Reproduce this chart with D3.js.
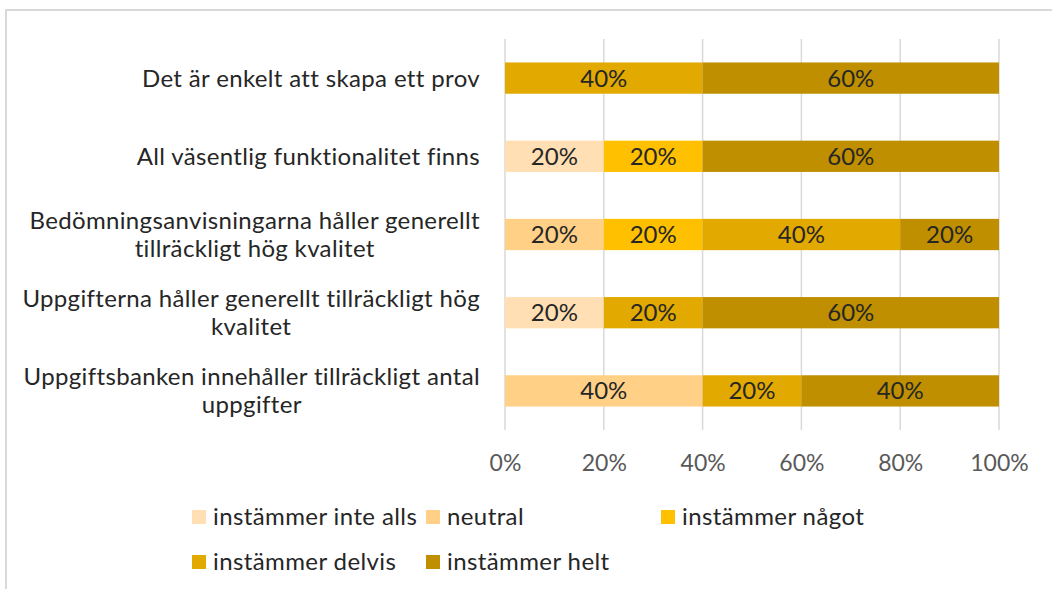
<!DOCTYPE html>
<html>
<head>
<meta charset="utf-8">
<script src="https://cdn.jsdelivr.net/npm/d3@7"></script>
<style>
    body { margin: 0; background: #fff; }
    svg { display: block; font-family: Lato, "Open Sans", sans-serif; }
</style>
</head>
<body>
<script>
// Statements, top to bottom.
var categories = [
    "Det är enkelt att skapa ett prov",
    "All väsentlig funktionalitet finns",
    "Bedömningsanvisningarna håller generellt tillräckligt hög kvalitet",
    "Uppgifterna håller generellt tillräckligt hög kvalitet",
    "Uppgiftsbanken innehåller tillräckligt antal uppgifter"
];

// Answer options, in stacking order.
var seriesNames = ["instämmer inte alls", "neutral", "instämmer något", "instämmer delvis", "instämmer helt"];
var seriesColors = ["#FFDFB3", "#FFD086", "#FFC000", "#E2A900", "#BF8F00"];

// Share of answers per statement.
var inteAlls = [0, 0.2, 0, 0.2, 0];
var neutral = [0, 0, 0.2, 0, 0.4];
var nagot = [0, 0.2, 0.2, 0, 0];
var delvis = [0.4, 0, 0.4, 0.2, 0.2];
var helt = [0.6, 0.6, 0.2, 0.6, 0.4];

var xTicks = [0, 0.2, 0.4, 0.6, 0.8, 1];

var width = 1052, height = 589;

var svg = d3.select("body").append("svg")
    .attr("width", width)
    .attr("height", height);

// Chart frame.
svg.append("rect")
    .attr("x", 6)
    .attr("y", 10)
    .attr("width", width)
    .attr("height", height)
    .attr("fill", "none")
    .attr("stroke", "#D9D9D9")
    .attr("stroke-width", 2);

// Build one row object per statement for d3.stack.
var rows = categories.map((c, i) => ({
    category: c,
    "instämmer inte alls": inteAlls[i],
    "neutral": neutral[i],
    "instämmer något": nagot[i],
    "instämmer delvis": delvis[i],
    "instämmer helt": helt[i]
}));

var stacked = d3.stack().keys(seriesNames)(rows);

var x = d3.scaleLinear().domain([0, 1]).range([505, 999]);
var y = d3.scaleBand().domain(categories).range([39, 430])
    .paddingInner(0.6).paddingOuter(0.3);
var color = d3.scaleOrdinal().domain(seriesNames).range(seriesColors);

// Vertical gridlines.
svg.append("g")
    .selectAll("line")
    .data(xTicks)
    .join("line")
    .attr("x1", d => x(d))
    .attr("x2", d => x(d))
    .attr("y1", 39)
    .attr("y2", 430)
    .attr("stroke", "#D9D9D9")
    .attr("stroke-width", 1.5);

// Stacked bars.
var layer = svg.append("g")
    .selectAll("g")
    .data(stacked)
    .join("g")
    .attr("fill", d => color(d.key));

layer.selectAll("rect")
    .data(d => d.filter(s => s[1] - s[0] > 0))
    .join("rect")
    .attr("x", d => x(d[0]))
    .attr("y", d => y(d.data.category))
    .attr("width", d => x(d[1]) - x(d[0]))
    .attr("height", y.bandwidth());

// Value labels inside the segments.
layer.selectAll("text")
    .data(d => d.filter(s => s[1] - s[0] > 0))
    .join("text")
    .attr("x", d => (x(d[0]) + x(d[1])) / 2)
    .attr("y", d => y(d.data.category) + y.bandwidth() / 2)
    .attr("dy", "0.35em")
    .attr("text-anchor", "middle")
    .attr("fill", "#262626")
    .attr("font-size", 24)
    .text(d => d3.format(".0%")(d[1] - d[0]));

// X axis tick labels.
var xAxis = svg.append("g")
    .attr("transform", "translate(0,430)")
    .call(d3.axisBottom(x).tickValues(xTicks).tickFormat(d3.format(".0%")).tickSize(0).tickPadding(25));
xAxis.select(".domain").remove();
xAxis.selectAll("text")
    .attr("font-family", "Lato, sans-serif")
    .attr("font-size", 23)
    .attr("fill", "#595959");

// Category labels, wrapped into lines and centred on the widest line.
var labelRight = 480, labelMax = 460, lineHeight = 28;
var labels = svg.append("g")
    .attr("font-size", 24)
    .attr("letter-spacing", 0.35)
    .attr("fill", "#262626");

categories.forEach(cat => {
    var t = labels.append("text").attr("text-anchor", "middle");
    var words = cat.split(" "), lines = [], line = [];
    words.forEach(w => {
        line.push(w);
        t.text(line.join(" "));
        if (t.node().getComputedTextLength() > labelMax && line.length > 1) {
            line.pop();
            lines.push(line.join(" "));
            line = [w];
        }
    });
    lines.push(line.join(" "));
    t.text(null);
    var widest = d3.max(lines, l => { t.text(l); var w = t.node().getComputedTextLength(); t.text(null); return w; });
    var cx = labelRight - widest / 2;
    var cy = y(cat) + y.bandwidth() / 2 - (lines.length - 1) * lineHeight / 2;
    lines.forEach((l, i) => {
        t.append("tspan")
            .attr("x", cx)
            .attr("y", cy + i * lineHeight)
            .attr("dy", "0.35em")
            .text(l);
    });
});

// Legend, two rows.
var legendPos = [[192, 517], [426, 517], [661, 517], [192, 562], [426, 562]];
var legend = svg.append("g")
    .selectAll("g")
    .data(seriesNames)
    .join("g")
    .attr("transform", (d, i) => "translate(" + legendPos[i][0] + "," + legendPos[i][1] + ")");

legend.append("rect")
    .attr("x", 0)
    .attr("y", -7)
    .attr("width", 14)
    .attr("height", 14)
    .attr("fill", d => color(d));

legend.append("text")
    .attr("x", 21)
    .attr("dy", "0.35em")
    .attr("font-size", 24)
    .attr("letter-spacing", 0.4)
    .attr("fill", "#262626")
    .text(d => d);
</script>
</body>
</html>
